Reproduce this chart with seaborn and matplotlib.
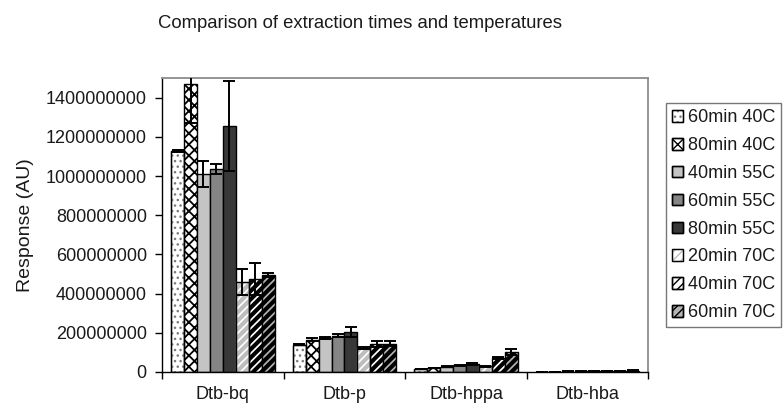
import numpy as np
import pandas as pd
import matplotlib
matplotlib.use("Agg")
import matplotlib.pyplot as plt
import seaborn as sns
from matplotlib.patches import Rectangle, Patch
from matplotlib.legend_handler import HandlerTuple

# ---------------- data (values in AU) ----------------
compounds = ["Dtb-bq", "Dtb-p", "Dtb-hppa", "Dtb-hba"]
conditions = ["60min 40C", "80min 40C", "40min 55C", "60min 55C",
              "80min 55C", "20min 70C", "40min 70C", "60min 70C"]

v_60min_40C = [1130e6, 140e6, 15e6, 1e6]
v_80min_40C = [1470e6, 165e6, 20e6, 1.5e6]
v_40min_55C = [1010e6, 172e6, 27e6, 2e6]
v_60min_55C = [1035e6, 185e6, 35e6, 2.5e6]
v_80min_55C = [1255e6, 205e6, 42e6, 3e6]
v_20min_70C = [460e6, 122e6, 30e6, 3e6]
v_40min_70C = [475e6, 145e6, 70e6, 5e6]
v_60min_70C = [495e6, 145e6, 100e6, 7e6]

e_60min_40C = [5e6, 4e6, 2e6, 0.5e6]
e_80min_40C = [200e6, 8e6, 2e6, 0.5e6]
e_40min_55C = [65e6, 6e6, 3e6, 0.5e6]
e_60min_55C = [25e6, 8e6, 3e6, 0.5e6]
e_80min_55C = [230e6, 25e6, 4e6, 0.5e6]
e_20min_70C = [68e6, 5e6, 3e6, 0.5e6]
e_40min_70C = [80e6, 15e6, 5e6, 1e6]
e_60min_70C = [10e6, 12e6, 15e6, 1e6]

values = [v_60min_40C, v_80min_40C, v_40min_55C, v_60min_55C,
          v_80min_55C, v_20min_70C, v_40min_70C, v_60min_70C]
errors = [e_60min_40C, e_80min_40C, e_40min_55C, e_60min_55C,
          e_80min_55C, e_20min_70C, e_40min_70C, e_60min_70C]

y_ticks = [0, 200000000, 400000000, 600000000, 800000000,
           1000000000, 1200000000, 1400000000]

# ---------------- styles ----------------
# (facecolor, hatch, hatch colour, hatch linewidth)
styles = [
    ("white", "...", "#7a7a7a", 1.0),
    ("white", "xxx", "black", 1.3),
    ("#c4c4c4", "", "black", 1.0),
    ("#858585", "", "black", 1.0),
    ("#383838", "", "black", 1.0),
    ("white", "////", "#bdbdbd", 3.0),
    ("white", "////", "black", 3.0),
    ("#b5b5b5", "////", "black", 3.0),
]

sns.set_style("white")
plt.rcParams["font.family"] = ["Liberation Sans", "DejaVu Sans"]
plt.rcParams["hatch.linewidth"] = 1.0

rows = []
for cond, vals in zip(conditions, values):
    for comp, v in zip(compounds, vals):
        rows.append({"compound": comp, "condition": cond, "value": v})
df = pd.DataFrame(rows)

fig, ax = plt.subplots(figsize=(7.83, 4.09), dpi=100)
fig.subplots_adjust(left=0.207, right=0.828, bottom=0.0905, top=0.809)

sns.barplot(data=df, x="compound", y="value", hue="condition",
            order=compounds, hue_order=conditions, errorbar=None,
            width=0.85, gap=0, ax=ax, legend=False)

def style_patch(p, fc, hatch, hc, hlw):
    p.set_facecolor(fc)
    p.set_edgecolor(hc)
    p.set_hatch(hatch if hatch else None)
    p.set_linewidth(1.0)
    if hasattr(p, "set_hatch_linewidth"):
        p.set_hatch_linewidth(hlw)

for cont, (fc, hatch, hc, hlw), errs in zip(ax.containers, styles, errors):
    xs, ys = [], []
    for p in cont.patches:
        style_patch(p, fc, hatch, hc, hlw)
        if hc != "black":
            ax.add_patch(Rectangle((p.get_x(), p.get_y()), p.get_width(),
                                   p.get_height(), fill=False,
                                   edgecolor="black", lw=1.0,
                                   zorder=p.get_zorder() + 0.1))
        xs.append(p.get_x() + p.get_width() / 2)
        ys.append(p.get_height())
    ax.errorbar(xs, ys, yerr=errs, fmt="none", ecolor="black",
                elinewidth=1.4, capsize=4, capthick=1.4, zorder=5)

ax.set_ylim(0, 1500000000)
ax.set_xlim(-0.5, len(compounds) - 0.5)
ax.set_yticks(y_ticks)
ax.ticklabel_format(style="plain", axis="y", useOffset=False)
ax.set_xticks(range(len(compounds)))
ax.set_xticklabels(compounds)
ax.set_xticks(np.arange(-0.5, len(compounds), 1.0), minor=True)
ax.tick_params(axis="x", which="major", length=0, pad=10, labelsize=13,
               colors="#1a1a1a")
ax.tick_params(axis="x", which="minor", length=5, width=1, direction="out",
               color="black", bottom=True)
ax.tick_params(axis="y", length=5, width=1, direction="out", pad=6,
               labelsize=13, left=True, color="black", labelcolor="#1a1a1a")
ax.set_xlabel("")
ax.set_ylabel("Response (AU)", fontsize=14, color="#1a1a1a")
ax.yaxis.set_label_coords(-0.263, 0.5)

for s in ["left", "bottom"]:
    ax.spines[s].set_color("black")
    ax.spines[s].set_linewidth(1.0)
for s in ["top", "right"]:
    ax.spines[s].set_color("#8c8c8c")
    ax.spines[s].set_linewidth(1.3)
    ax.spines[s].set_visible(True)

fig.text(0.46, 1 - 23 / 409, "Comparison of extraction times and temperatures",
         ha="center", va="center", fontsize=13.3, color="#1a1a1a")

handles = []
for fc, hatch, hc, hlw in styles:
    hp = Patch(facecolor=fc, hatch=hatch if hatch else None, edgecolor=hc,
               linewidth=1.0)
    if hasattr(hp, "set_hatch_linewidth"):
        hp.set_hatch_linewidth(min(hlw, 1.5))
    outline = Patch(facecolor="none", edgecolor="black", linewidth=1.0)
    handles.append((hp, outline))

leg = ax.legend(handles=handles, labels=conditions,
                handler_map={tuple: HandlerTuple(ndivide=1, pad=0)},
                loc="upper left", bbox_to_anchor=(666 / 783, 1 - 103 / 409),
                bbox_transform=fig.transFigure, borderaxespad=0,
                fontsize=13, frameon=True, fancybox=False,
                handlelength=0.6, handleheight=0.6, handletextpad=0.25,
                labelspacing=0.6, borderpad=0.35)
leg.get_frame().set_edgecolor("#555555")
leg.get_frame().set_linewidth(1.0)
for t in leg.get_texts():
    t.set_color("#1a1a1a")

fig.savefig("out.png", dpi=100)
